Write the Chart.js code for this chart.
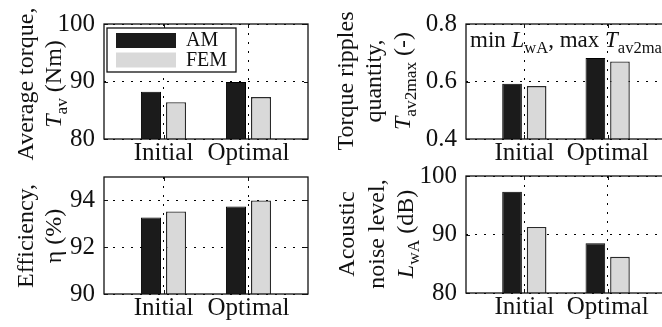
<!DOCTYPE html>
<html lang="en">
<head>
<meta charset="UTF-8">
<title>AM vs FEM</title>
<script src="https://cdn.jsdelivr.net/npm/chart.js"></script>
<style>
  body { margin: 0; background: #fff; }
  #wrap { position: relative; width: 662px; height: 327px; overflow: hidden; }
  #wrap canvas { position: absolute; left: 0; top: 0; }
</style>
</head>
<body>
<div id="wrap">
  <canvas id="c1" width="680" height="327"></canvas>
  <canvas id="c2" width="680" height="327"></canvas>
  <canvas id="c3" width="680" height="327"></canvas>
  <canvas id="c4" width="680" height="327"></canvas>
</div>
<script>
// data
const categories = ['Initial', 'Optimal'];
const seriesNames = ['AM', 'FEM'];

const torqueAM = [88.2, 89.9];
const torqueFEM = [86.4, 87.3];
const torqueTicks = [80, 90, 100];

const rippleAM = [0.592, 0.682];
const rippleFEM = [0.584, 0.670];
const rippleTicks = [0.4, 0.6, 0.8];

const effAM = [93.27, 93.74];
const effFEM = [93.53, 94.0];
const effTicks = [90, 92, 94];
const effMax = 95;

const noiseAM = [97.3, 88.5];
const noiseFEM = [91.3, 86.2];
const noiseTicks = [80, 90, 100];

const FONT = '"Liberation Serif", serif';
const AM_COLOR = '#1b1b1b';
const FEM_COLOR = '#d9d9d9';

// draw a run of segments (italic / subscript) starting at x, baseline y
function richWidth(ctx, segs, size) {
    let w = 0;
    segs.forEach(s => {
        const fs = s.sub ? size * 0.72 : size;
        ctx.font = (s.it ? 'italic ' : '') + fs + 'px ' + FONT;
        w += ctx.measureText(s.t).width;
    });
    return w;
}
function drawRich(ctx, segs, size, x, y) {
    segs.forEach(s => {
        const fs = s.sub ? size * 0.72 : size;
        ctx.font = (s.it ? 'italic ' : '') + fs + 'px ' + FONT;
        ctx.fillText(s.t, x, y + (s.sub ? size * 0.26 : 0));
        x += ctx.measureText(s.t).width;
    });
}

const framePlugin = {
    id: 'frame',
    afterDatasetsDraw(chart) {
        const {ctx, chartArea: a, scales} = chart;
        ctx.save();
        ctx.strokeStyle = '#111';
        ctx.lineWidth = 1.3;
        ctx.strokeRect(a.left, a.top, a.right - a.left, a.bottom - a.top);
        // small inward tick marks, matlab style
        ctx.lineWidth = 1;
        ctx.beginPath();
        scales.x.ticks.forEach(t => {
            const px = Math.round(scales.x.getPixelForValue(t.value)) + 0.5;
            ctx.moveTo(px, a.top); ctx.lineTo(px, a.top + 4);
            ctx.moveTo(px, a.bottom); ctx.lineTo(px, a.bottom - 4);
        });
        scales.y.ticks.forEach(t => {
            const py = Math.round(scales.y.getPixelForValue(t.value)) + 0.5;
            ctx.moveTo(a.left, py); ctx.lineTo(a.left + 4, py);
            ctx.moveTo(a.right, py); ctx.lineTo(a.right - 4, py);
        });
        ctx.stroke();
        ctx.restore();
    },
    afterDraw(chart) {
        const o = chart.options.plugins.frame || {};
        const ctx = chart.ctx;
        ctx.save();
        ctx.fillStyle = '#111';
        ctx.textBaseline = 'alphabetic';
        // rotated y titles
        (o.lines || []).forEach((segs, i) => {
            const w = richWidth(ctx, segs, 24);
            ctx.save();
            ctx.translate(o.baselines[i], o.cy);
            ctx.rotate(-Math.PI / 2);
            drawRich(ctx, segs, 24, -w / 2, 0);
            ctx.restore();
        });
        if (o.note) {
            drawRich(ctx, o.note, 23, o.noteX, o.noteY);
        }
        if (o.legend) {
            const L = o.legend;
            ctx.fillStyle = '#fff';
            ctx.fillRect(L.x, L.y, L.w, L.h);
            ctx.strokeStyle = '#111';
            ctx.lineWidth = 1.3;
            ctx.strokeRect(L.x, L.y, L.w, L.h);
            chart.data.datasets.forEach((ds, i) => {
                const sy = L.y + 5 + i * 19.5;
                ctx.fillStyle = ds.backgroundColor;
                ctx.fillRect(L.x + 9, sy, 60, 15);
                ctx.fillStyle = '#111';
                ctx.font = '20px ' + FONT;
                ctx.textBaseline = 'middle';
                ctx.fillText(ds.label, L.x + 79, sy + 8);
            });
        }
        ctx.restore();
    }
};

function makePanel(id, area, am, fem, ticks, yMax, extra) {
    const yw = 50, xh = 30;
    const ds = (vals) => vals.map((v, i) => ({x: i + 1, y: v}));
    return new Chart(document.getElementById(id), {
        type: 'bar',
        data: {
            datasets: [{
                label: seriesNames[0],
                data: ds(am),
                backgroundColor: AM_COLOR,
                borderColor: '#000',
                borderWidth: 1
            }, {
                label: seriesNames[1],
                data: ds(fem),
                backgroundColor: FEM_COLOR,
                borderColor: '#2a2a2a',
                borderWidth: 1.4
            }]
        },
        options: {
            responsive: false,
            animation: false,
            devicePixelRatio: 1,
            categoryPercentage: 0.59,
            barPercentage: 0.8,
            layout: {
                padding: {
                    left: area.l - yw,
                    top: area.t,
                    right: 680 - area.r,
                    bottom: 327 - area.b - xh
                }
            },
            plugins: {
                legend: {display: false},
                tooltip: {enabled: false},
                frame: extra
            },
            scales: {
                x: {
                    type: 'linear',
                    offset: false,
                    min: 0.3,
                    max: 2.7,
                    afterBuildTicks: s => { s.ticks = categories.map((c, i) => ({value: i + 1})); },
                    afterFit: s => { s.height = xh; },
                    grid: {color: '#000', lineWidth: 1, drawTicks: false, offset: false},
                    border: {display: false, dash: [2, 7]},
                    ticks: {
                        font: {family: FONT, size: 25},
                        color: '#111',
                        padding: -1,
                        maxRotation: 0,
                        autoSkip: false,
                        callback: v => categories[v - 1]
                    }
                },
                y: {
                    min: ticks[0],
                    max: yMax,
                    afterBuildTicks: s => { s.ticks = ticks.map(v => ({value: v})); },
                    afterFit: s => { s.width = yw; },
                    grid: {color: '#000', lineWidth: 1, drawTicks: false},
                    border: {display: false, dash: [2, 7]},
                    ticks: {
                        font: {family: FONT, size: 25},
                        color: '#111',
                        padding: 9,
                        callback: v => String(v)
                    }
                }
            }
        },
        plugins: [framePlugin]
    });
}

function drawAll() {
    makePanel('c1', {l: 104, t: 23, r: 308, b: 139}, torqueAM, torqueFEM, torqueTicks, 100, {
        lines: [[{t: 'Average torque,'}], [{t: 'T', it: true}, {t: 'av', sub: true}, {t: ' (Nm)'}]],
        baselines: [33, 61], cy: 84,
        legend: {x: 107, y: 28, w: 129, h: 44}
    });

    makePanel('c2', {l: 466, t: 24, r: 666, b: 139}, rippleAM, rippleFEM, rippleTicks, 0.8, {
        lines: [[{t: 'Torque ripples'}], [{t: 'quantity,'}],
                [{t: 'T', it: true}, {t: 'av2max', sub: true}, {t: ' (-)'}]],
        baselines: [353, 381, 410], cy: 81,
        note: [{t: 'min '}, {t: 'L', it: true}, {t: 'wA', sub: true}, {t: ', max '},
               {t: 'T', it: true}, {t: 'av2max', sub: true}],
        noteX: 470, noteY: 47
    });

    makePanel('c3', {l: 104, t: 177, r: 308, b: 294}, effAM, effFEM, effTicks, effMax, {
        lines: [[{t: 'Efficiency,'}], [{t: 'η (%)'}]],
        baselines: [33, 61], cy: 236
    });

    makePanel('c4', {l: 466, t: 176, r: 666, b: 293}, noiseAM, noiseFEM, noiseTicks, 100, {
        lines: [[{t: 'Acoustic'}], [{t: 'noise level,'}],
                [{t: 'L', it: true}, {t: 'wA', sub: true}, {t: ' (dB)'}]],
        baselines: [354, 384, 413], cy: 234
    });
}

// make sure the serif face is ready before the canvases use it
Promise.all([
    document.fonts.load('24px "Liberation Serif"'),
    document.fonts.load('italic 24px "Liberation Serif"')
]).then(drawAll, drawAll);
</script>
</body>
</html>
